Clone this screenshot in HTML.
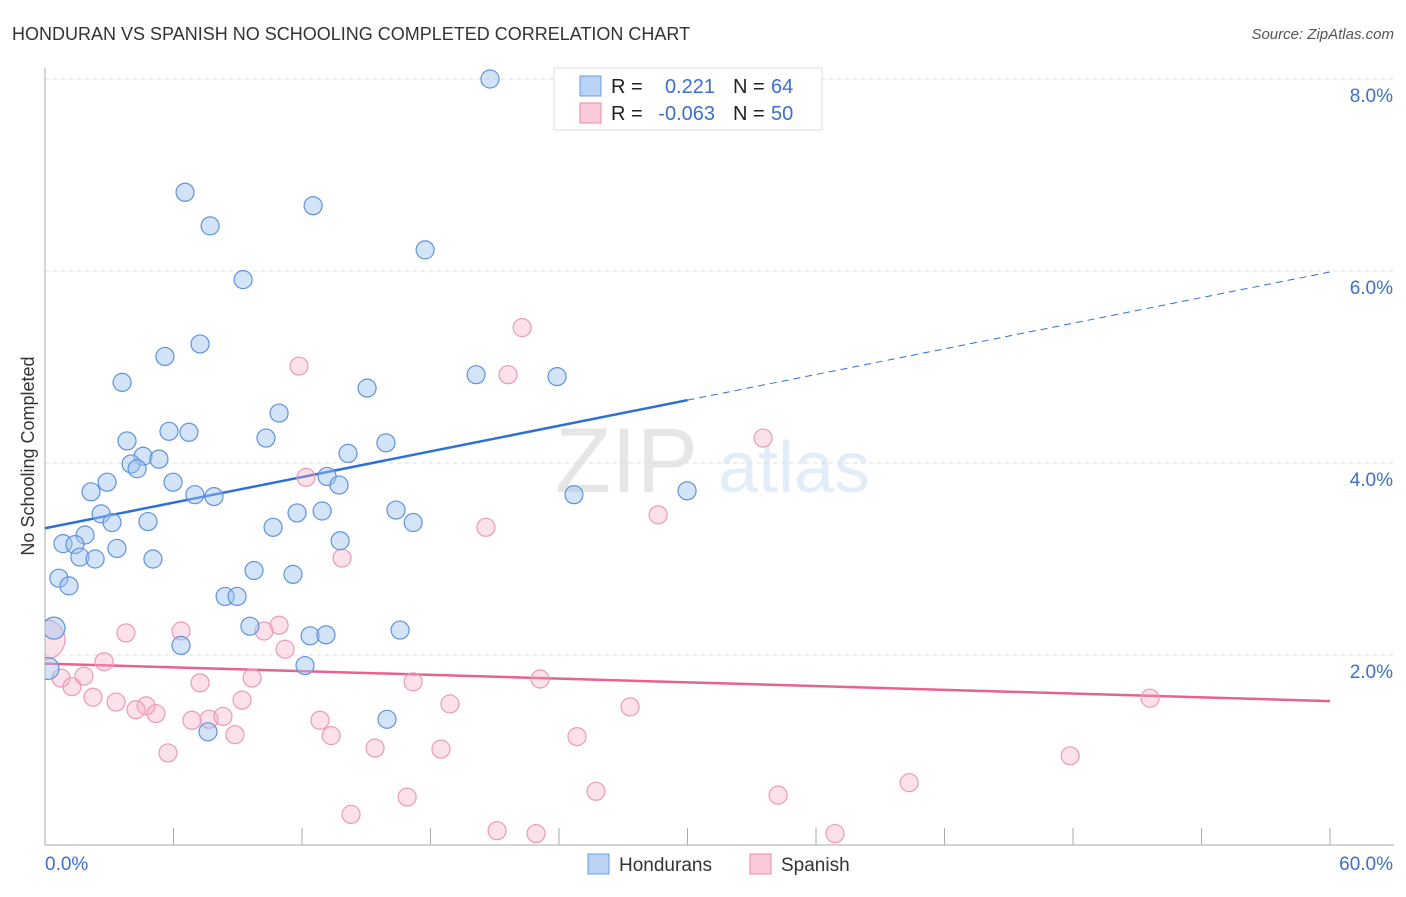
<!DOCTYPE html>
<html><head><meta charset="utf-8"><style>
body{margin:0;background:#fff;font-family:"Liberation Sans",sans-serif;}
svg text{font-family:"Liberation Sans",sans-serif;}
</style></head><body>
<svg id="chart" width="1406" height="892">
<defs><clipPath id="plotclip"><rect x="45" y="60" width="1360" height="785"/></clipPath></defs>
<text x="12" y="40" font-size="18" fill="#333">HONDURAN VS SPANISH NO SCHOOLING COMPLETED CORRELATION CHART</text>
<text x="1394" y="39" font-size="15" fill="#555" font-style="italic" text-anchor="end">Source: ZipAtlas.com</text>
<text transform="translate(34,456) rotate(-90)" font-size="18" fill="#333" text-anchor="middle">No Schooling Completed</text>
<g opacity="0.18"><text x="555" y="492" font-size="92" font-family="Liberation Serif" fill="#777">ZIP</text><text x="718" y="492" font-size="72" fill="#6a9be0">atlas</text></g>
<g id="grid"></g><g id="axes"></g><g id="trend"></g><g id="pts" clip-path="url(#plotclip)"></g>
<g>
<rect x="554" y="68" width="268" height="62" fill="#fff" stroke="#ddd"/>
<rect x="580" y="76" width="21" height="20" fill="#b9d3f5" stroke="#6a9be0"/>
<rect x="580" y="103" width="21" height="20" fill="#fbcad8" stroke="#e88aa8"/>
<text x="611" y="93" font-size="20" fill="#222">R =</text><text x="715" y="93" font-size="20" fill="#3b6fd0" text-anchor="end">0.221</text>
<text x="733" y="93" font-size="20" fill="#222">N =</text><text x="771" y="93" font-size="20" fill="#3b6fd0">64</text>
<text x="611" y="120" font-size="20" fill="#222">R =</text><text x="715" y="120" font-size="20" fill="#3b6fd0" text-anchor="end">-0.063</text>
<text x="733" y="120" font-size="20" fill="#222">N =</text><text x="771" y="120" font-size="20" fill="#3b6fd0">50</text>
</g>
<g>
<rect x="588" y="854" width="21" height="20" fill="#b9d3f5" stroke="#6a9be0"/>
<text x="619" y="871" font-size="19" fill="#333">Hondurans</text>
<rect x="750" y="854" width="21" height="20" fill="#fbcad8" stroke="#e88aa8"/>
<text x="781" y="871" font-size="19" fill="#333">Spanish</text>
</g>
</svg>
<script>
const yTicks=[2,4,6,8];
const yTickLabels=["2.0%","4.0%","6.0%","8.0%"];
const xTickLabels=["0.0%","60.0%"];
const blueX=[20.78,6.54,12.52,7.71,17.75,9.25,7.24,5.60,3.60,20.13,23.91,15.04,10.93,5.79,6.72,3.83,10.32,15.92,4.58,5.32,14.15,4.02,4.30,13.17,2.90,5.98,2.15,13.73,7.00,7.89,24.70,29.98,2.62,16.39,11.77,12.94,3.13,4.81,17.19,10.65,1.87,0.84,1.40,13.78,3.36,1.63,2.34,5.04,9.76,11.58,0.65,1.12,8.41,8.97,0.42,9.57,16.58,12.38,13.12,6.35,0.14,12.14,15.97,7.61];
const blueY=[8.0,6.82,6.68,6.47,6.22,5.91,5.24,5.11,4.84,4.92,4.90,4.78,4.52,4.33,4.32,4.23,4.26,4.21,4.07,4.04,4.10,3.99,3.94,3.86,3.80,3.80,3.70,3.77,3.67,3.65,3.67,3.71,3.47,3.51,3.48,3.50,3.38,3.39,3.38,3.33,3.25,3.16,3.15,3.19,3.11,3.02,3.00,3.00,2.88,2.84,2.80,2.72,2.61,2.61,2.28,2.30,2.26,2.20,2.21,2.10,1.86,1.89,1.33,1.20];
const pinkX=[22.28,11.86,21.62,33.53,12.19,20.59,28.63,13.87,3.78,6.35,10.93,10.23,0.0,2.76,11.21,0.75,1.82,1.26,7.24,9.67,2.24,9.20,3.32,4.72,4.25,5.18,23.12,17.19,18.91,27.32,51.60,6.86,7.66,8.31,12.84,8.87,13.36,5.74,15.41,18.49,24.84,47.87,40.35,25.73,34.23,16.91,14.29,21.11,22.93,36.89];
const pinkY=[5.41,5.01,4.92,4.26,3.85,3.33,3.46,3.01,2.23,2.25,2.31,2.25,2.16,1.93,2.06,1.76,1.78,1.67,1.71,1.76,1.56,1.53,1.51,1.47,1.43,1.39,1.75,1.72,1.49,1.46,1.55,1.32,1.33,1.36,1.32,1.17,1.16,0.98,1.03,1.02,1.15,0.95,0.67,0.58,0.54,0.52,0.34,0.17,0.14,0.14];
const blueTrend=[3.32,5.99];
const pinkTrend=[1.91,1.52];
const blueSolidEnd=30;
const NS="http://www.w3.org/2000/svg";
const X=v=>45+v/60*1285;
const Y=v=>847-v*96;
function mk(tag,attrs,parent){const e=document.createElementNS(NS,tag);for(const k in attrs)e.setAttribute(k,attrs[k]);parent.appendChild(e);return e;}
const grid=document.getElementById('grid'),axes=document.getElementById('axes'),trend=document.getElementById('trend'),pts=document.getElementById('pts');
yTicks.forEach((t,i)=>{
 const l=mk('line',{x1:45,x2:1394,y1:Y(t),y2:Y(t),stroke:'#ddd','stroke-dasharray':'4,4'},grid);
 
 
 const tx=mk('text',{x:1393,y:Y(t)+23,'font-size':19,fill:'#3b6fd0','text-anchor':'end'},axes);
 tx.textContent=yTickLabels[i];
 
 
});
const topG=mk('line',{x1:45,x2:1394,y1:79,y2:79,stroke:'#ddd','stroke-dasharray':'4,4'},grid);


const ya=mk('line',{x1:45,x2:45,y1:68,y2:845,stroke:'#aaa'},axes);


const xa=mk('line',{x1:45,x2:1394,y1:845,y2:845,stroke:'#aaa'},axes);


for(let i=0;i<=10;i++){
 const t=mk('line',{x1:X(i*6),x2:X(i*6),y1:828,y2:845,stroke:'#aaa'},axes);
 
 
}
[[0,45,'start'],[60,1393,'end']].forEach((d,i)=>{
 const tx=mk('text',{x:d[1],y:870,'font-size':19,fill:'#3b6fd0','text-anchor':d[2]},axes);
 tx.textContent=xTickLabels[i];
 
 
});
const bAt=v=>blueTrend[0]+(blueTrend[1]-blueTrend[0])*v/60;
const b1=mk('line',{x1:X(0),y1:Y(bAt(0)),x2:X(blueSolidEnd),y2:Y(bAt(blueSolidEnd)),stroke:'#2f6fd6','stroke-width':2.5},trend);


const b2=mk('line',{x1:X(blueSolidEnd),y1:Y(bAt(blueSolidEnd)),x2:X(60),y2:Y(bAt(60)),stroke:'#2f6fd6','stroke-width':1,'stroke-dasharray':'7,5'},trend);


const p1=mk('line',{x1:X(0),y1:Y(pinkTrend[0]),x2:X(60),y2:Y(pinkTrend[1]),stroke:'#e8628f','stroke-width':2.5},trend);


pinkX.forEach((x,i)=>{
 const c=mk('circle',{cx:X(x),cy:Y(pinkY[i]),r:x===0?20:9,fill:'rgba(245,170,195,0.35)',stroke:'#eb9ab5','stroke-width':1.2},pts);
 
 
});
blueX.forEach((x,i)=>{
 const c=mk('circle',{cx:X(x),cy:Y(blueY[i]),r:x<0.5?11:9,fill:'rgba(160,195,240,0.45)',stroke:'#5f92dc','stroke-width':1.2},pts);
 
 
});
</script>
</body></html>
